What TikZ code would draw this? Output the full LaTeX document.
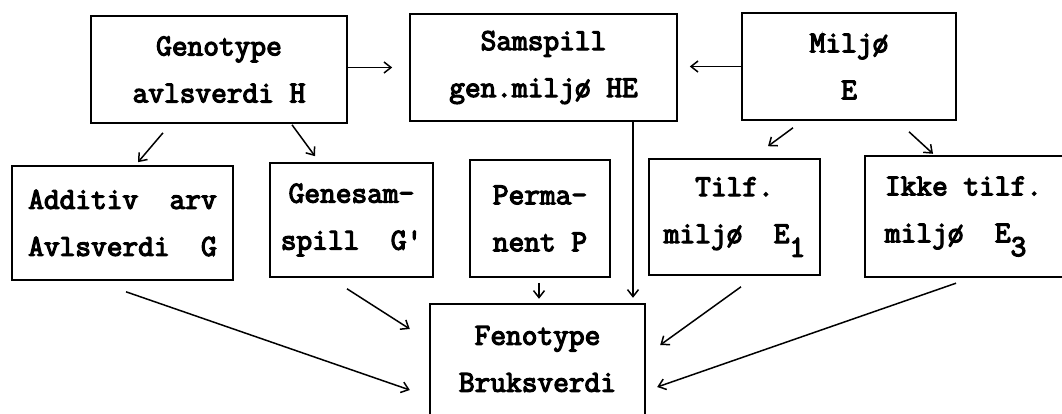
\documentclass[tikz,border=0pt]{standalone}
\usepackage{fontspec}
\newfontfamily\typew[FakeBold=4]{Latin Modern Mono}
\usetikzlibrary{arrows.meta}
\tikzset{
  typ/.style={font=\typew\fontsize{30.5}{47}\selectfont, inner sep=0pt},
  boxed/.style={typ, draw, line width=1.6pt, align=center},
  open/.style={typ, align=left},
  edge/.style={line width=1.6pt},
  arr/.style={line width=1.5pt, -{Straight Barb[length=7pt,width=11pt,line width=1.5pt]}},
}
\newcommand{\sub}[1]{\raisebox{-0.45em}{#1}}
\begin{document}
\begin{tikzpicture}[x=1pt,y=1pt]
\useasboundingbox[fill=white] (0,0) rectangle (1062,-414);
% top row
\node[boxed, minimum width=256, minimum height=107] (gen) at (219,-69.5) {Genotype\\avlsverdi H};
\node[boxed, minimum width=267, minimum height=107] (sam) at (543.5,-67.5) {Samspill\\gen.miljø HE};
\node[boxed, minimum width=214, minimum height=107] (mil) at (849,-66.5) {Miljø\\E};
% middle row
\node[boxed, minimum width=221, minimum height=114] (add) at (122.5,-223) {Additiv\ \ arv\\Avlsverdi\ \ G};
\node[boxed, minimum width=163, minimum height=114] (ges) at (351.5,-220) {Genesam-\\spill\ \ G'};
\node[boxed, minimum width=140, minimum height=117] (per) at (540,-218.5) {Perma-\\nent P};
\node[boxed, minimum width=171, minimum height=116] (til) at (734.5,-217) {Tilf.\\miljø\ \ E\sub{1}};
\node[open, minimum width=197, minimum height=121] (ikke) at (963.5,-216.5) {Ikke tilf.\\miljø\ \ E\sub{3}};
\draw[edge] (ikke.north east) -- (ikke.north west) -- (ikke.south west) -- (ikke.south east);
% bottom
\node[open, align=center, minimum width=215, minimum height=110] (fen) at (537.5,-359) {Fenotype\\Bruksverdi};
\draw[edge] (fen.south west) -- (fen.north west) -- (fen.north east) -- (fen.south east);
% connectors
\draw[arr] (gen.east |- sam.west) -- ([xshift=-17]sam.west);
\draw[arr] (mil.west) -- ([xshift=12]mil.west -| sam.east);
\draw[arr] ([shift={(-56,-9)}]gen.south) -- ([shift={(15.5,3)}]add.north);
\draw[arr] ([shift={(73,-1)}]gen.south) -- ([shift={(-36.5,6)}]ges.north);
\draw[arr] ([shift={(-56,-7)}]mil.south) -- ([shift={(33.5,12)}]til.north);
\draw[arr] ([shift={(60,-11)}]mil.south) -- ([shift={(-30.5,2)}]ikke.north);
\draw[arr, shorten >=6pt] ([xshift=89.5]sam.south) -- ([xshift=89.5]sam.south |- fen.north);
\draw[arr] ([shift={(-1,-5)}]per.south) -- ([shift={(-1,-21)}]per.south);
\draw[arr] ([shift={(3.5,-11)}]add.south) -- ([shift={(-20,-31)}]fen.west);
\draw[arr] ([shift={(-4.5,-11)}]ges.south) -- ([shift={(-20,30)}]fen.west);
\draw[arr] ([shift={(6.5,-11)}]til.south) -- ([shift={(15,14)}]fen.east);
\draw[arr] ([shift={(-7.5,-6)}]ikke.south) -- ([shift={(12,-28)}]fen.east);
\end{tikzpicture}
\end{document}
